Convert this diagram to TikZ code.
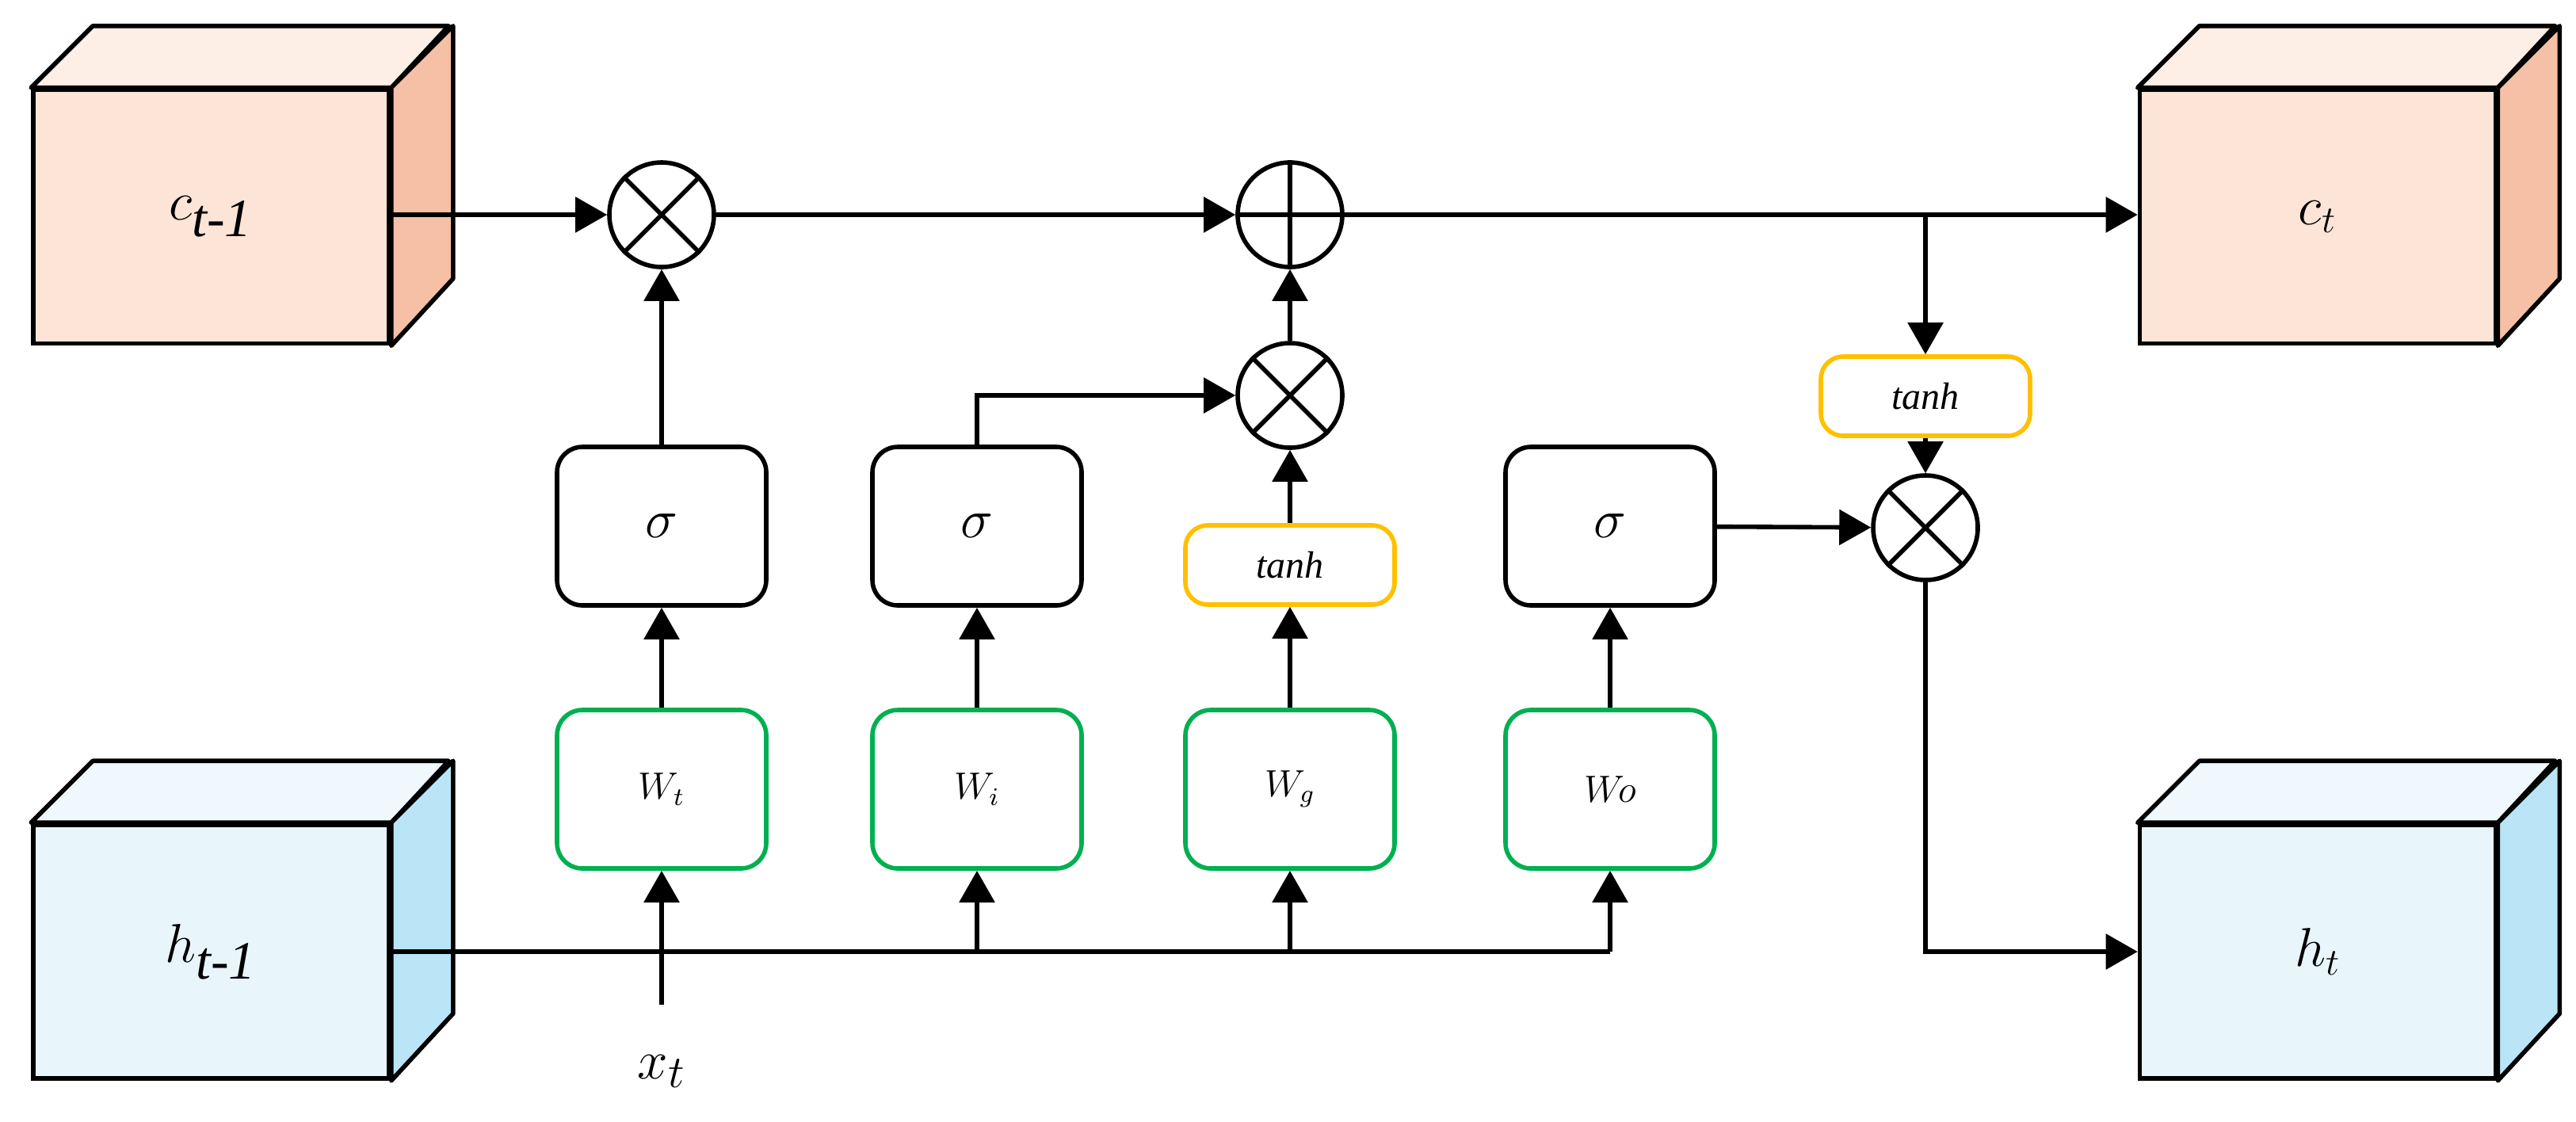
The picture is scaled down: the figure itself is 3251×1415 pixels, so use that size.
\documentclass[tikz,border=0pt]{standalone}
\usepackage{fontspec}
\setmainfont{Liberation Serif}
\usetikzlibrary{arrows.meta}
\definecolor{cF}{HTML}{FCE4D6}\definecolor{cT}{HTML}{FDEEE6}\definecolor{cS}{HTML}{F5C0A5}
\definecolor{hF}{HTML}{E8F6FC}\definecolor{hT}{HTML}{EEF8FD}\definecolor{hS}{HTML}{B9E5F7}
\definecolor{gr}{HTML}{00B050}\definecolor{og}{HTML}{FFC000}
\tikzset{
 ln/.style={line width=1.4pt},
 ar/.style={ln,-{Triangle[length=10pt,width=11pt]}},
 front/.style={draw,ln,minimum width=112.25pt,minimum height=80pt,inner sep=0pt,font=\fontsize{17}{20}\selectfont\itshape},
 op/.style={circle,draw,ln,minimum size=33pt,inner sep=0pt,fill=white},
 sig/.style={draw,ln,rounded corners=8pt,minimum width=66pt,minimum height=50pt,font=\fontsize{17}{20}\selectfont\itshape},
 wbox/.style={draw=gr,ln,rounded corners=8pt,minimum width=66pt,minimum height=50pt,font=\fontsize{12}{14}\selectfont\itshape},
 tbox/.style={draw=og,ln,rounded corners=7pt,minimum width=66pt,minimum height=25pt,font=\fontsize{12}{14}\selectfont\itshape},
}
\newcommand{\mycube}[2]{%
 \fill[#2T,draw=black,ln,line join=round] (#1.north west) -- ++(78,-78) -- ++(449,0) -- (#1.north east) -- cycle;
 \fill[#2S,draw=black,ln,line join=round] (#1.north east) -- ++(78,-78) -- ++(0,319) -- (#1.south east) -- cycle;
}
\begin{document}
\begin{tikzpicture}[x=0.25pt,y=-0.25pt]
\useasboundingbox (0,0) rectangle (3251,1415);
\node[front,fill=cF] (cprev) at (266.5,273.5) {$c_{\textit{t-1}}$};
\mycube{cprev}{c}
\node[front,fill=hF] (hprev) at (266.5,1201) {$h_{\textit{t-1}}$};
\mycube{hprev}{h}
\node[front,fill=cF] (cnext) at (2925,273.5) {$c_{t}$};
\mycube{cnext}{c}
\node[front,fill=hF] (hnext) at (2925,1201) {$h_{t}$};
\mycube{hnext}{h}

\node[op] (m1) at (835,271) {};
\node[op] (p1) at (1628,271) {};
\node[op] (m2) at (1628,499) {};
\node[op] (m3) at (2430,666) {};
\foreach \n in {m1,m2,m3}{\draw[ln] (\n.45)--(\n.225) (\n.135)--(\n.315);}
\draw[ln] (p1.north)--(p1.south) (p1.west)--(p1.east);

\node[sig] (s1) at (835,664) {$\sigma$};
\node[sig] (s2) at (1233,664) {$\sigma$};
\node[tbox] (t1) at (1628,713) {tanh};
\node[sig] (s3) at (2032,664) {$\sigma$};
\node[tbox] (t2) at (2430,500) {tanh};

\node[wbox] (w1) at (835,996) {$W_t$};
\node[wbox] (w2) at (1233,996) {$W_i$};
\node[wbox] (w3) at (1628,996) {$W_g$};
\node[wbox] (w4) at (2032,996) {$W\!o$};

\node[font=\fontsize{19}{22}\selectfont\itshape] (xt) at (835,1352) {$x_t$};
\coordinate (xe) at (835,1268);

\draw[ar] (cprev.east |- m1) -- (m1);
\draw[ar] (m1) -- (p1);
\draw[ar] (p1) -- (cnext.west |- p1);
\coordinate (br) at (2430,271);
\draw[ar] (br) -- (t2);
\draw[ar] (t2) -- (m3);
\draw[ar] (s1) -- (m1);
\draw[ar] (m2) -- (p1);
\draw[ar] (s2.north) |- (m2);
\draw[ar] (t1) -- (m2);
\draw[ar] (s3) -- (m3);
\draw[ar] (m3) |- (hnext.west);
\draw[ln] (hprev.east) -- (2032,1201);
\draw[ar] (xe) -- (w1);
\draw[ar] (1233,1201) -- (w2);
\draw[ar] (1628,1201) -- (w3);
\draw[ar] (2032,1201) -- (w4);
\draw[ar] (w1)--(s1);
\draw[ar] (w2)--(s2);
\draw[ar] (w3)--(t1);
\draw[ar] (w4)--(s3);
\end{tikzpicture}
\end{document}
